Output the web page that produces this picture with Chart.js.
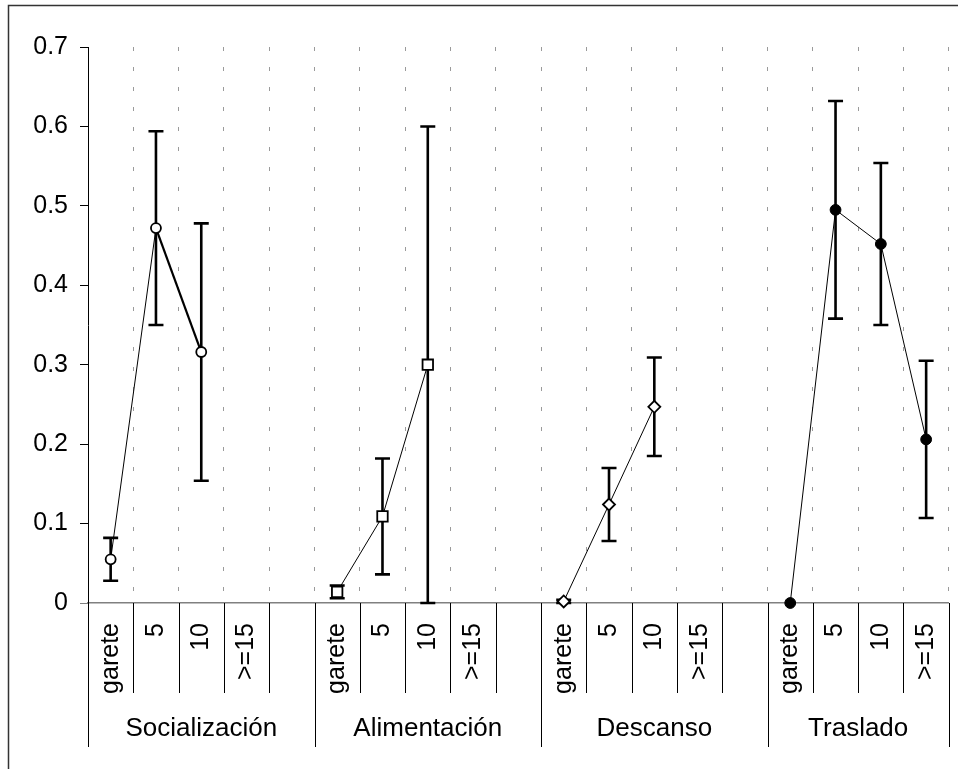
<!DOCTYPE html>
<html>
<head>
<meta charset="utf-8">
<script src="https://cdn.jsdelivr.net/npm/chart.js@4/dist/chart.umd.min.js"></script>
<style>
  html, body { margin: 0; padding: 0; background: #fff; }
  #wrap { position: relative; width: 958px; height: 769px; }
</style>
</head>
<body>
<div id="wrap"><canvas id="c"></canvas></div>
<script>
// Activity groups and distance levels on the two-level category axis
const groups = ['Socialización', 'Alimentación', 'Descanso', 'Traslado'];
const levels = ['garete', '5', '10', '>=15'];
const yTicks = [0, 0.1, 0.2, 0.3, 0.4, 0.5, 0.6, 0.7];

// Proportions per level, with their error-bar half widths
const socializacion    = [0.055, 0.472, 0.316, null];
const socializacionErr = [0.027, 0.122, 0.162, null];
const alimentacion     = [0.014, 0.109, 0.300, null];
const alimentacionErr  = [0.008, 0.073, 0.300, null];
const descanso         = [0.002, 0.124, 0.247, null];
const descansoErr      = [0.002, 0.046, 0.062, null];
const traslado         = [0.000, 0.495, 0.452, 0.206];
const trasladoErr      = [null, 0.137, 0.102, 0.099];

const FONT = '"Liberation Sans", Arial, Helvetica, sans-serif';
const FONT_SIZE = 25;
const GROUP_FONT_SIZE = 26;

// Each group takes its levels plus one empty spacer slot (except the last)
const SLOTS_PER_GROUP = levels.length + 1;
const labels = [];
groups.forEach((g, gi) => {
  levels.forEach(l => labels.push(l));
  if (gi < groups.length - 1) labels.push('');
});

function place(values, gi) {
  const arr = new Array(labels.length).fill(null);
  values.forEach((v, i) => { arr[gi * SLOTS_PER_GROUP + i] = v; });
  return arr;
}

const series = [
  { values: socializacion, err: socializacionErr, style: 'circle',  radius: 5.0, fill: '#fff', bw: 1.8,
    segment: { borderWidth: c => (c.p0DataIndex === 1 ? 2.2 : undefined) } },
  { values: alimentacion,  err: alimentacionErr,  style: 'rect',    radius: 7.4, fill: '#fff', bw: 1.8 },
  { values: descanso,      err: descansoErr,      style: 'rectRot', radius: 6.0, fill: '#fff', bw: 1.8 },
  { values: traslado,      err: trasladoErr,      style: 'circle',  radius: 5.4, fill: '#000', bw: 1 }
];

// Vertical error bars with caps, drawn under the markers
const errorBars = {
  id: 'errorBars',
  beforeDatasetsDraw(chart) {
    const { ctx, scales: { x, y } } = chart;
    ctx.save();
    ctx.strokeStyle = '#000';
    ctx.lineWidth = 2.6;
    ctx.lineCap = 'butt';
    chart.data.datasets.forEach(ds => {
      ds.data.forEach((v, i) => {
        const e = ds.errors[i];
        if (v == null || e == null) return;
        const px = x.getPixelForValue(i);
        const top = y.getPixelForValue(v + e);
        const bot = y.getPixelForValue(v - e);
        ctx.beginPath();
        ctx.moveTo(px, top); ctx.lineTo(px, bot);
        ctx.moveTo(px - 7.5, top); ctx.lineTo(px + 7.5, top);
        ctx.moveTo(px - 7.5, bot); ctx.lineTo(px + 7.5, bot);
        ctx.stroke();
      });
    });
    ctx.restore();
  }
};

// Rotated level labels, separators and group names below the axis
const categoryAxis = {
  id: 'categoryAxis',
  afterDraw(chart) {
    const { ctx, chartArea: a, scales: { x } } = chart;
    const n = labels.length;
    const slot = (x.right - x.left) / n;
    ctx.save();
    ctx.strokeStyle = '#000';
    ctx.lineWidth = 1;
    for (let k = 0; k <= n; k++) {
      const bx = Math.round(x.left + k * slot) + 0.5;
      const long = k % SLOTS_PER_GROUP === 0 || k === n;
      ctx.beginPath();
      ctx.moveTo(bx, a.bottom);
      ctx.lineTo(bx, a.bottom + (long ? 144 : 90));
      ctx.stroke();
    }
    ctx.fillStyle = '#000';
    ctx.font = FONT_SIZE + 'px ' + FONT;
    labels.forEach((t, i) => {
      if (!t) return;
      const cx = x.getPixelForValue(i);
      ctx.save();
      ctx.translate(cx, a.bottom + 20);
      ctx.rotate(-Math.PI / 2);
      ctx.textAlign = 'right';
      ctx.textBaseline = 'middle';
      ctx.fillText(t, 0, 0);
      ctx.restore();
    });
    ctx.font = GROUP_FONT_SIZE + 'px ' + FONT;
    ctx.textAlign = 'center';
    ctx.textBaseline = 'alphabetic';
    groups.forEach((g, gi) => {
      const start = gi * SLOTS_PER_GROUP;
      const end = Math.min(start + SLOTS_PER_GROUP, n);
      const cx = x.left + (start + end) / 2 * slot;
      ctx.fillText(g, cx, a.bottom + 133);
    });
    ctx.restore();
  }
};

// Outer frame of the chart
const frame = {
  id: 'frame',
  beforeDraw(chart) {
    const { ctx, width, height } = chart;
    ctx.save();
    ctx.strokeStyle = '#333';
    ctx.lineWidth = 1.5;
    ctx.beginPath();
    ctx.moveTo(8.5, height);
    ctx.lineTo(8.5, 5.5);
    ctx.lineTo(width, 5.5);
    ctx.stroke();
    ctx.restore();
  }
};

new Chart(document.getElementById('c'), {
  type: 'line',
  data: {
    labels,
    datasets: series.map((s, gi) => ({
      label: groups[gi],
      data: place(s.values, gi),
      errors: place(s.err, gi),
      borderColor: '#000',
      borderWidth: 1,
      pointStyle: s.style,
      pointRadius: s.radius,
      pointHoverRadius: s.radius,
      pointBackgroundColor: s.fill,
      pointBorderColor: '#000',
      pointBorderWidth: s.bw,
      spanGaps: false,
      tension: 0,
      clip: false,
      segment: s.segment || {}
    }))
  },
  options: {
    responsive: true,
    maintainAspectRatio: false,
    animation: false,
    events: [],
    layout: { padding: { top: 47, right: 5, left: 0, bottom: 0 } },
    plugins: { legend: { display: false }, tooltip: { enabled: false } },
    scales: {
      x: {
        type: 'category',
        offset: true,
        grid: { display: true, offset: true, drawOnChartArea: true, drawTicks: false, color: '#9a9a9a', lineWidth: 1 },
        border: { display: true, color: '#808080', width: 1.5, dash: [4, 16] },
        ticks: { display: false },
        afterFit: s => { s.height = 166; }
      },
      y: {
        min: 0,
        max: 0.7,
        afterBuildTicks: s => { s.ticks = yTicks.map(v => ({ value: v })); },
        ticks: {
          font: { family: FONT, size: FONT_SIZE },
          color: '#000',
          padding: 12,
          callback: v => String(Math.round(v * 10) / 10)
        },
        grid: {
          drawOnChartArea: false,
          drawTicks: true,
          tickLength: 8,
          color: '#000',
          tickColor: c => (c.tick && c.tick.value === 0 ? '#808080' : '#000')
        },
        border: { display: true, color: '#000', width: 1 },
        afterFit: s => { s.width = 88; }
      }
    }
  },
  plugins: [frame, errorBars, categoryAxis]
});
</script>
</body>
</html>
